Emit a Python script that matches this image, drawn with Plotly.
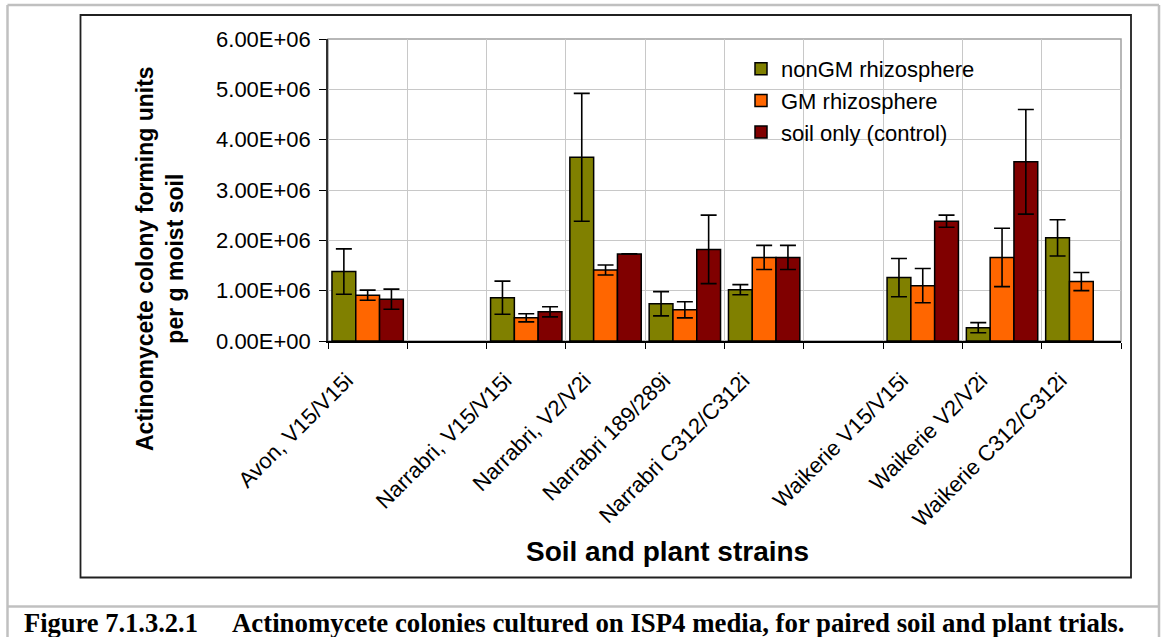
import plotly.graph_objects as go

# ---------------- data ----------------
categories = ["Avon, V15/V15i", " ", "Narrabri, V15/V15i", "Narrabri, V2/V2i",
              "Narrabri 189/289i", "Narrabri C312/C312i", "  ",
              "Waikerie V15/V15i", "Waikerie V2/V2i", "Waikerie C312/C312i"]

nongm = [1.38e6, None, 0.86e6, 3.65e6, 0.74e6, 1.02e6, None, 1.26e6, 0.265e6, 2.05e6]
nongm_err = [0.45e6, None, 0.33e6, 1.27e6, 0.24e6, 0.10e6, None, 0.38e6, 0.10e6, 0.36e6]

gm = [0.91e6, None, 0.46e6, 1.41e6, 0.62e6, 1.66e6, None, 1.10e6, 1.66e6, 1.18e6]
gm_err = [0.10e6, None, 0.08e6, 0.10e6, 0.16e6, 0.24e6, None, 0.34e6, 0.58e6, 0.18e6]

ctrl = [0.83e6, None, 0.58e6, 1.73e6, 1.82e6, 1.66e6, None, 2.38e6, 3.56e6, None]
ctrl_err = [0.20e6, None, 0.10e6, 0.0, 0.68e6, 0.24e6, None, 0.12e6, 1.04e6, None]

series_names = ["nonGM rhizosphere", "GM rhizosphere", "soil only (control)"]
series_colors = ["#808000", "#FF6600", "#800000"]

y_tick_vals = [0, 1e6, 2e6, 3e6, 4e6, 5e6, 6e6]
y_tick_text = ["0.00E+00", "1.00E+06", "2.00E+06", "3.00E+06", "4.00E+06", "5.00E+06", "6.00E+06"]

y_title = "Actinomycete colony forming units<br>per g moist soil"
x_title = "Soil and plant strains"
caption_num = "Figure 7.1.3.2.1"
caption_text = "Actinomycete colonies cultured on ISP4 media, for paired soil and plant trials."

# ---------------- layout geometry (pixels) ----------------
W, H = 1162, 637
PL, PR, PT, PB = 328, 1121, 39, 341
PW, PH = PR - PL, PB - PT


def px(x):
    return (x - PL) / PW


def py(y):
    return (PB - y) / PH


FONT = "Arial, 'Liberation Sans', sans-serif"
SERIF = "'Liberation Serif', 'Times New Roman', serif"

fig = go.Figure()
for vals, errs, name, col in zip([nongm, gm, ctrl], [nongm_err, gm_err, ctrl_err],
                                 series_names, series_colors):
    fig.add_trace(go.Bar(
        x=categories, y=vals, name=name,
        marker=dict(color=col, line=dict(color="black", width=1.5)),
        error_y=dict(type="data", array=errs, visible=True, color="black",
                     thickness=1.6, width=8),
    ))

shapes = [
    # white legend background hiding gridlines
    dict(type="rect", xref="paper", yref="paper", x0=px(711), x1=px(1021),
         y0=py(150), y1=py(53), fillcolor="white", line=dict(width=0), layer="between"),
    # plot area border (gray)
    dict(type="rect", xref="paper", yref="paper", x0=0, x1=1, y0=0, y1=1,
         line=dict(color="#a0a0a0", width=1.5), layer="below"),
    # chart frame (black)
    dict(type="rect", xref="paper", yref="paper", x0=px(80.5), x1=px(1131),
         y0=py(577.5), y1=py(15), line=dict(color="#202020", width=1.8)),
    # outer gray page border
    dict(type="line", xref="paper", yref="paper", x0=px(7.5), x1=px(7.5),
         y0=py(645), y1=py(5), line=dict(color="#c0c0c0", width=2.5)),
    dict(type="line", xref="paper", yref="paper", x0=px(1159), x1=px(1159),
         y0=py(645), y1=py(5), line=dict(color="#c0c0c0", width=2.5)),
    dict(type="line", xref="paper", yref="paper", x0=px(7.5), x1=px(1159),
         y0=py(5), y1=py(5), line=dict(color="#c0c0c0", width=2.5)),
    dict(type="line", xref="paper", yref="paper", x0=px(7.5), x1=px(1159),
         y0=py(606.5), y1=py(606.5), line=dict(color="#c0c0c0", width=2.5)),
]

annotations = [
    dict(text=f"<b>{y_title}</b>", xref="paper", yref="paper", x=px(160), y=py(259),
         showarrow=False, textangle=-90, font=dict(family=FONT, size=23, color="black"),
         xanchor="center", yanchor="middle"),
    dict(text=f"<b>{x_title}</b>", xref="paper", yref="paper", x=px(667), y=py(551),
         showarrow=False, font=dict(family=FONT, size=28, color="black"),
         xanchor="center", yanchor="middle"),
    dict(text=f"<b>{caption_num}</b>", xref="paper", yref="paper", x=px(22), y=py(623),
         showarrow=False, font=dict(family=SERIF, size=26.5, color="black"),
         xanchor="left", yanchor="middle"),
    dict(text=f"<b>{caption_text}</b>", xref="paper", yref="paper", x=px(230), y=py(623),
         showarrow=False, font=dict(family=SERIF, size=26.8, color="black"),
         xanchor="left", yanchor="middle"),
]

fig.update_layout(
    width=W, height=H,
    margin=dict(l=PL, r=W - PR, t=PT, b=H - PB, pad=0),
    paper_bgcolor="white", plot_bgcolor="white",
    barmode="group", bargap=0.1, bargroupgap=0,
    font=dict(family=FONT, size=22, color="black"),
    showlegend=True,
    legend=dict(x=px(741), y=py(48), xanchor="left", yanchor="top",
                bgcolor="rgba(0,0,0,0)", font=dict(family=FONT, size=22),
                itemclick=False, traceorder="normal"),
    shapes=shapes,
    annotations=annotations,
    xaxis=dict(
        type="category", categoryorder="array", categoryarray=categories,
        tickson="boundaries", ticks="outside", ticklen=6, tickcolor="black", tickwidth=1.2,
        showgrid=True, gridcolor="#c8c8c8", gridwidth=1,
        showline=True, linecolor="black", linewidth=1.5,
        tickangle=-45, tickfont=dict(family=FONT, size=22, color="black"),
        ticklabelstandoff=16, ticklabelshift=-21,
        range=[-0.5, len(categories) - 0.5], fixedrange=True,
    ),
    yaxis=dict(
        range=[0, 6e6], tickvals=y_tick_vals, ticktext=y_tick_text,
        ticks="outside", ticklen=7, tickcolor="black", tickwidth=1.2,
        showgrid=True, gridcolor="#c8c8c8", gridwidth=1,
        showline=True, linecolor="#303030", linewidth=1.5,
        zeroline=False, ticklabelstandoff=4,
        tickfont=dict(family=FONT, size=22, color="black"), fixedrange=True,
    ),
)

fig.write_html("out.html", config={"displayModeBar": False})
